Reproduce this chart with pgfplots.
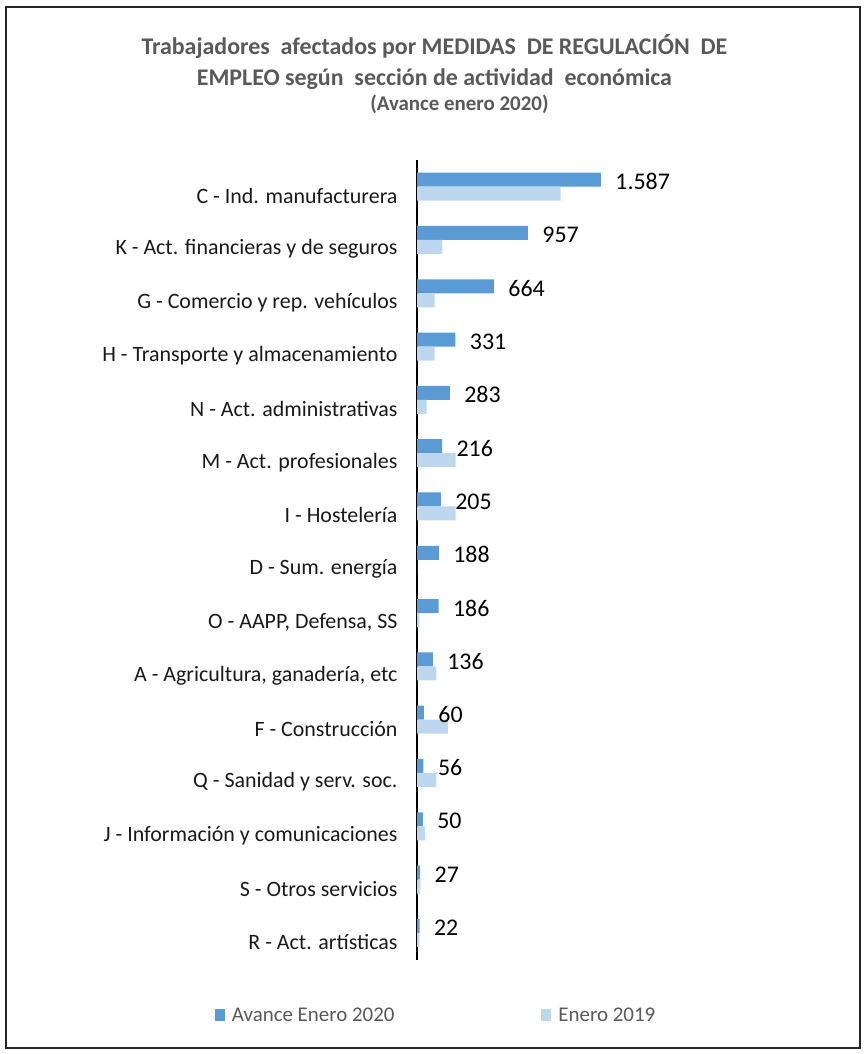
\documentclass[border=0pt]{standalone}
\usepackage{fontspec}
\setmainfont{Carlito}
\usepackage{pgfplots}
\pgfplotsset{compat=1.18}
\usepackage{pgfplotstable}

\definecolor{serA}{HTML}{5B9BD5}
\definecolor{serB}{HTML}{BDD7EE}
\definecolor{titgray}{HTML}{595959}

% idx: 0 = top row
\pgfplotstableread{
idx v2020 v2019 lab
0  1587 1240 1.587
1  957  218  957
2  664  152  664
3  331  152  331
4  283  83   283
5  216  334  216
6  205  334  205
7  188  0    188
8  186  20   186
9  136  167  136
10 60   267  60
11 56   167  56
12 50   69   50
13 27   30   27
14 22   20   22
}\datos

\begin{document}
\begin{tikzpicture}
\begin{axis}[
  at={(417bp,-160bp)}, anchor=north west,
  x=0.1159bp, y=53.3bp,
  y dir=reverse,
  xmin=0, xmax=3500,
  ymin=-0.5, ymax=14.5,
  xbar, bar width=14bp,
  axis x line=none,
  axis y line=left,
  y axis line style={-, line width=1.2bp, black},
  ytick={0,...,14},
  major tick length=0pt,
  yticklabels={{C - Ind. manufacturera},
    {K - Act. financieras y de seguros},
    {G - Comercio y rep. vehículos},
    {H - Transporte y almacenamiento},
    {N - Act. administrativas},
    {M - Act. profesionales},
    {I - Hostelería},
    {D - Sum. energía\hspace{6bp}},
    {O - AAPP, Defensa, SS},
    {A - Agricultura, ganadería, etc},
    {F - Construcción},
    {Q - Sanidad y serv. soc.},
    {J - Información y comunicaciones},
    {S - Otros servicios},
    {R - Act. artísticas}},
  yticklabel style={font=\fontsize{22}{24}\selectfont, text=black!90, xshift=-16bp, yshift=-9bp},
  title={Trabajadores\ \ afectados por MEDIDAS\ \ DE REGULACIÓN\ \ DE\\[3bp]EMPLEO según\ \ sección de actividad\ \ económica\\[-3bp]{\fontsize{21}{24}\selectfont\hspace*{50bp}(Avance enero 2020)}},
  title style={align=center, font=\bfseries\fontsize{24}{28}\selectfont, text=titgray,
    at={(0.043,1.1)}, anchor=center},
  legend columns=2,
  legend style={at={(0.047,-0.07)}, anchor=center, draw=none,
    font=\fontsize{21}{23}\selectfont, text=titgray,
    /tikz/every odd column/.append style={column sep=5bp},
    /tikz/every even column/.append style={column sep=145bp}},
  legend image code/.code={\fill[#1] (0bp,-6bp) rectangle (10bp,6bp);},
]
\addplot[fill=serA, draw=none, bar shift=7bp,
  point meta=explicit symbolic,
  nodes near coords, every node near coord/.append style={font=\fontsize{24}{26}\selectfont, text=black, anchor=west, xshift=11bp, yshift=-2bp}]
  table[x=v2020, y=idx, meta=lab] {\datos};
\addplot[fill=serB, draw=none, bar shift=-7bp]
  table[x=v2019, y=idx] {\datos};
\legend{Avance Enero 2020, Enero 2019}
\end{axis}
\draw[line width=1.2bp, black!85] (6bp,-7bp) rectangle (860bp,-1048bp);
\pgfresetboundingbox
\path (0,0) rectangle (867bp,-1054bp);
\end{tikzpicture}
\end{document}
